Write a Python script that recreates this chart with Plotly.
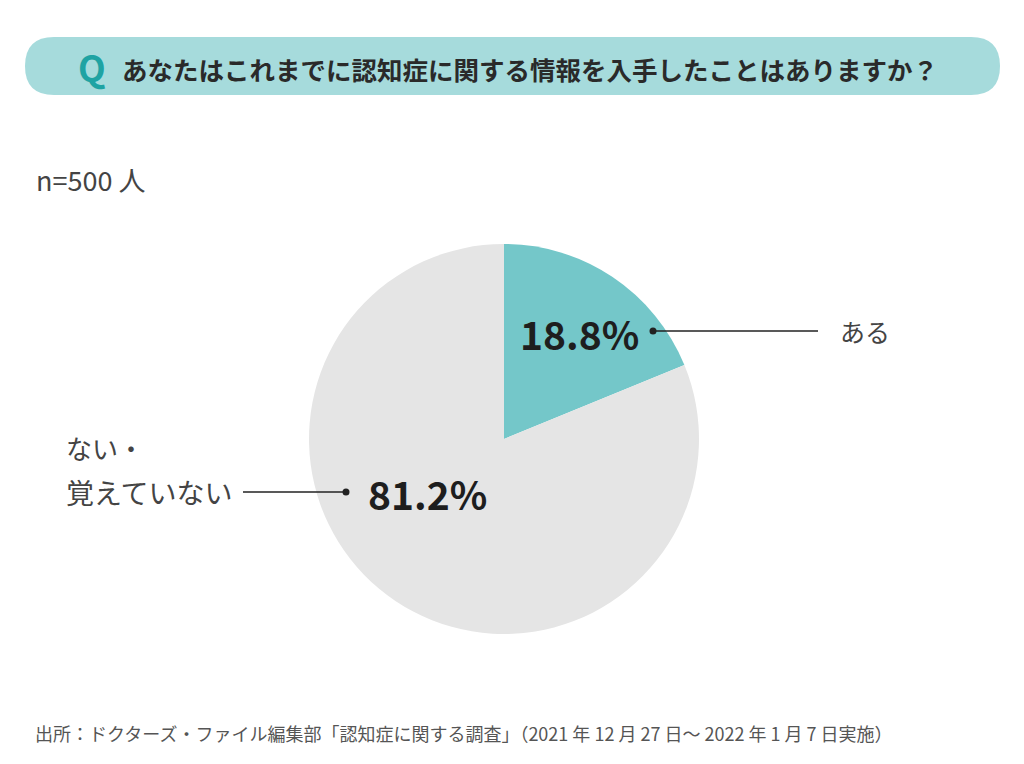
import plotly.graph_objects as go

# データ
labels = ["ある", "ない・覚えていない"]
values = [18.8, 81.2]
colors = ["#74C7C9", "#E5E5E5"]
pct_text = ["18.8%", "81.2%"]

title = "あなたはこれまでに認知症に関する情報を入手したことはありますか？"
n_text = "n=500 人"
source = "出所：ドクターズ・ファイル編集部「認知症に関する調査」（2021 年 12 月 27 日〜 2022 年 1 月 7 日実施）"

W, H = 1024, 764
OFF = 8  # ページ余白のぶんだけずらす
JP = "Noto Sans CJK JP"


def px(v):
    return v - OFF


fig = go.Figure()
fig.add_trace(go.Pie(
    labels=labels, values=values, sort=False, direction="clockwise", rotation=0,
    marker=dict(colors=colors, line=dict(width=0)),
    textinfo="none", hoverinfo="label+percent", showlegend=False,
    domain=dict(x=[px(309) / W, px(699) / W], y=[(H - px(634)) / H, (H - px(244)) / H]),
))

# 背景の帯（角丸）
x0, x1, y0, y1, r = px(25), px(1000), px(37), px(95), 29
path = (f"M{x0+r},{y0} L{x1-r},{y0} Q{x1},{y0} {x1},{y0+r} Q{x1},{y1} {x1-r},{y1} "
        f"L{x0+r},{y1} Q{x0},{y1} {x0},{y0+r} Q{x0},{y0} {x0+r},{y0} Z")
fig.add_shape(type="path", path=path, xref="x", yref="y",
              fillcolor="#A6DBDC", line=dict(width=0), layer="below")

fig.add_annotation(x=px(92), y=px(66), text="<b>Q</b>", showarrow=False, xanchor="center", yanchor="middle",
                   font=dict(family=JP, size=36, color="#1FA3A3"))
fig.add_annotation(x=px(120), y=px(68), text="<b>" + title + "</b>", showarrow=False, xanchor="left",
                   yanchor="middle", font=dict(family=JP, size=25.5, color="#2a2a2a"))

fig.add_annotation(x=px(34), y=px(179), text=n_text, showarrow=False, xanchor="left", yanchor="middle",
                   font=dict(family=JP, size=27, color="#444"))

# 引き出し線
fig.add_shape(type="line", x0=px(653), x1=px(818), y0=px(331), y1=px(331), xref="x", yref="y",
              line=dict(color="#222", width=1.5))
fig.add_shape(type="line", x0=px(243), x1=px(346), y0=px(492), y1=px(492), xref="x", yref="y",
              line=dict(color="#222", width=1.5))
for cx, cy in [(653, 331), (346, 492)]:
    fig.add_shape(type="circle", x0=px(cx) - 3.5, x1=px(cx) + 3.5, y0=px(cy) - 3.5, y1=px(cy) + 3.5,
                  xref="x", yref="y", fillcolor="#222", line=dict(width=0))

fig.add_annotation(x=px(579), y=px(333), text="<b>" + pct_text[0] + "</b>", showarrow=False,
                   xanchor="center", yanchor="middle", font=dict(family=JP, size=39, color="#1e1e1e"))
fig.add_annotation(x=px(427), y=px(493), text="<b>" + pct_text[1] + "</b>", showarrow=False,
                   xanchor="center", yanchor="middle", font=dict(family=JP, size=39, color="#1e1e1e"))

fig.add_annotation(x=px(838), y=px(331), text=labels[0], showarrow=False, xanchor="left", yanchor="middle",
                   font=dict(family=JP, size=25, color="#444"))
fig.add_annotation(x=px(64), y=px(447), text="ない・", showarrow=False, xanchor="left", yanchor="middle",
                   font=dict(family=JP, size=26, color="#444"))
fig.add_annotation(x=px(64), y=px(492), text="覚えていない", showarrow=False, xanchor="left", yanchor="middle",
                   font=dict(family=JP, size=28, color="#444"))

fig.add_annotation(x=px(33), y=px(733), text=source, showarrow=False, xanchor="left", yanchor="middle",
                   font=dict(family=JP, size=18, color="#555"))

fig.update_layout(
    width=W, height=H, margin=dict(l=0, r=0, t=0, b=0),
    paper_bgcolor="white", plot_bgcolor="white",
    xaxis=dict(range=[0, W], visible=False, fixedrange=True),
    yaxis=dict(range=[H, 0], visible=False, fixedrange=True),
)

fig.write_html("out.html")
